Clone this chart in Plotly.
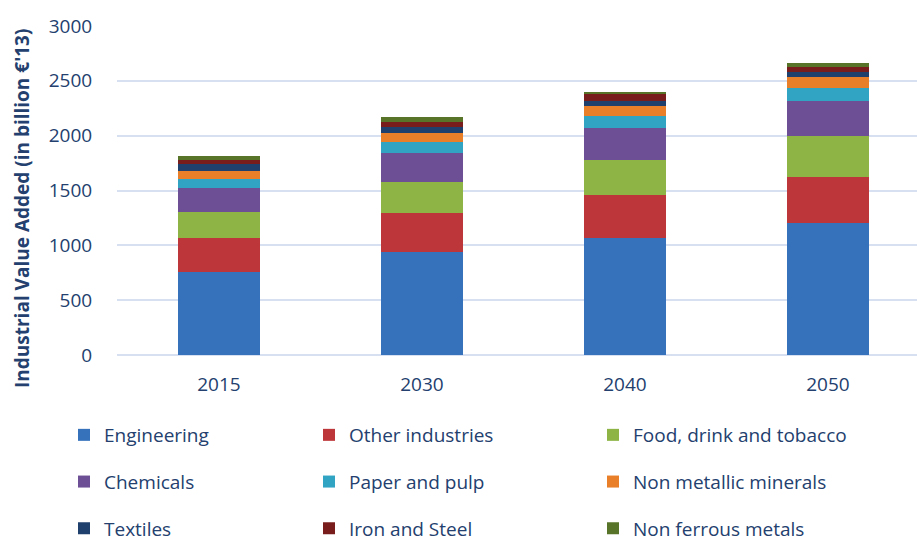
import plotly.graph_objects as go

# Industrial value added by sector (billion €'13)
years = ["2015", "2030", "2040", "2050"]

engineering = [755, 936, 1067, 1200]
other_industries = [309, 355, 388, 427]
food_drink_tobacco = [236, 291, 327, 373]
chemicals = [224, 263, 288, 318]
paper_pulp = [85, 100, 112, 118]
non_metallic_minerals = [73, 82, 91, 100]
textiles = [63, 55, 45, 49]
iron_steel = [37, 45, 58, 42]
non_ferrous_metals = [36, 40, 24, 40]

y_ticks = [0, 500, 1000, 1500, 2000, 2500, 3000]

# (name, values, colour, legend column)
series = [
    ("Engineering", engineering, "#3672bb", "legend"),
    ("Other industries", other_industries, "#bd373a", "legend2"),
    ("Food, drink and tobacco", food_drink_tobacco, "#8db444", "legend3"),
    ("Chemicals", chemicals, "#6c4f95", "legend"),
    ("Paper and pulp", paper_pulp, "#31a3c3", "legend2"),
    ("Non metallic minerals", non_metallic_minerals, "#e97f28", "legend3"),
    ("Textiles", textiles, "#1f3f6d", "legend"),
    ("Iron and Steel", iron_steel, "#781c1c", "legend2"),
    ("Non ferrous metals", non_ferrous_metals, "#577428", "legend3"),
]

text_color = "#23406e"
font_family = "Open Sans"

fig = go.Figure()
for name, vals, color, leg in series:
    fig.add_trace(go.Bar(
        x=years, y=vals, name=name,
        marker=dict(color=color, line=dict(width=0)),
        width=0.405,
        legend=leg,
        legendgroup=name,
    ))

legend_common = dict(
    orientation="v",
    font=dict(family=font_family, size=19, color=text_color),
    tracegroupgap=19,
    bgcolor="rgba(0,0,0,0)",
    xref="container", yref="container",
    xanchor="left", yanchor="top",
    itemclick=False, itemdoubleclick=False,
)
y_leg = 1 - 416 / 541

fig.update_layout(
    width=917, height=541,
    barmode="stack",
    plot_bgcolor="white", paper_bgcolor="white",
    margin=dict(l=117, r=0, t=26, b=186, autoexpand=False),
    font=dict(family=font_family, color=text_color),
    showlegend=True,
    legend=dict(x=64 / 917, y=y_leg, **legend_common),
    legend2=dict(x=309 / 917, y=y_leg, **legend_common),
    legend3=dict(x=593 / 917, y=y_leg, **legend_common),
    xaxis=dict(
        type="category",
        range=[-0.5025, 3.439],
        showgrid=False, showline=False, zeroline=False,
        ticks="outside", ticklen=12, tickcolor="rgba(0,0,0,0)",
        tickfont=dict(family=font_family, size=19, color=text_color),
    ),
    yaxis=dict(
        range=[0, 3000], tickvals=y_ticks,
        showgrid=True, gridcolor="#d7e0f1", gridwidth=1.5,
        zeroline=True, zerolinecolor="#d7e0f1", zerolinewidth=1.5,
        showline=False,
        ticks="outside", ticklen=20, tickcolor="rgba(0,0,0,0)",
        tickfont=dict(family=font_family, size=19, color=text_color),
    ),
    annotations=[dict(
        text="Industrial Value Added (in billion €'13)",
        xref="paper", yref="paper",
        x=-95 / 800, y=(355 - 209) / 329,
        xanchor="center", yanchor="middle",
        textangle=-90, showarrow=False,
        font=dict(family=font_family, size=19, color=text_color, weight="bold"),
    )],
)

fig.write_html("out.html")
